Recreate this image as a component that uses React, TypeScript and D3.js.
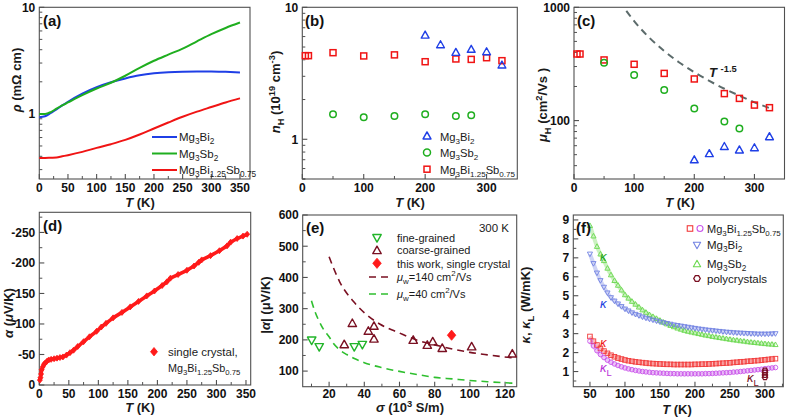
import React from "react";
import * as d3 from "d3";

const FONT = "Liberation Sans, Arial, Helvetica, sans-serif";

// ---------- (a) resistivity ----------
const aT = [0, 10, 20, 30, 40, 50, 75, 100, 125, 150, 175, 200, 225, 250, 275, 300, 325, 350];
const aBi = [0.93, 0.95, 1.02, 1.1, 1.2, 1.3, 1.55, 1.78, 1.98, 2.15, 2.3, 2.4, 2.46, 2.49, 2.5, 2.5, 2.48, 2.45];
const aSb = [1.0, 1.0, 1.04, 1.12, 1.2, 1.28, 1.5, 1.73, 1.96, 2.28, 2.7, 3.15, 3.6, 4.1, 4.8, 5.6, 6.4, 7.2];
const aMix = [0.385, 0.386, 0.388, 0.39, 0.4, 0.41, 0.44, 0.48, 0.52, 0.57, 0.64, 0.73, 0.83, 0.94, 1.05, 1.16, 1.28, 1.4];

// ---------- (b) carrier concentration ----------
const bBiT = [200, 225, 250, 275, 300, 325];
const bBi = [6.15, 5.2, 4.55, 4.8, 4.6, 3.65];
const bSbT = [50, 100, 150, 200, 250, 275];
const bSb = [1.55, 1.47, 1.5, 1.55, 1.5, 1.52];
const bMixT = [5, 10, 50, 100, 150, 200, 250, 275, 300, 325];
const bMix = [4.3, 4.3, 4.53, 4.28, 4.36, 3.87, 4.06, 4.03, 4.15, 3.94];

// ---------- (c) mobility ----------
const cMixT = [5, 10, 50, 100, 150, 200, 250, 275, 300, 325];
const cMix = [387, 387, 343, 314, 261, 233, 173, 157, 137, 130];
const cSbT = [50, 100, 150, 200, 250, 275];
const cSb = [324, 253, 186, 128, 98, 85];
const cBiT = [200, 225, 250, 275, 300, 325];
const cBi = [45, 51, 59, 55, 57.5, 72];
const cFitT = [87, 100, 125, 150, 175, 200, 225, 250, 275, 300, 325];
const cFit = [931, 756, 541, 411, 326, 267, 224, 191, 166, 145, 129];

// ---------- (d) Seebeck ----------
const dT = [1, 2, 3, 4, 6, 8, 10, 13, 16, 20, 25, 30, 35, 40, 46, 52, 58, 65, 75, 85, 97, 105, 113, 125, 140, 154, 168, 182, 195, 208, 216, 222, 235, 250, 262, 270, 275, 290, 305, 318, 324, 335, 345, 352];
const dA = [-8, -12, -18, -25, -30, -34, -36, -39, -41, -42, -43, -44, -45, -46, -49, -53, -57, -63, -71, -79, -88, -95, -101, -110, -119, -128, -137, -146, -154, -163, -169, -175, -181, -188, -195, -201, -205, -212, -220, -228, -234, -240, -244, -247];

// ---------- (e) Pisarenko ----------
const eFineS = [10.1, 14.4, 34.3, 38.9];
const eFineA = [199, 178, 178, 185];
const eCoarseS = [28.6, 33.2, 42.3, 45.5, 45.5, 67.8, 75.8, 78.9, 84.3, 101, 124.1];
const eCoarseA = [185, 253, 228, 244, 203, 199, 183, 194, 173, 178, 155];
const eCrystalS = [89.6];
const eCrystalA = [215];
const e140S = [20, 26, 34, 41, 49, 60, 70, 80, 90, 100, 110, 125];
const e140A = [466, 386, 322, 282, 250, 222, 199, 184, 171, 160, 152, 142];
const e40S = [10, 12, 14.5, 17, 20, 22.4, 26, 30, 34, 40, 50, 60, 70, 80, 90, 100, 110, 125];
const e40A = [325, 290, 258, 232, 210, 189, 168, 153, 141, 127, 111, 99, 89, 80, 75, 70, 66, 61];

// ---------- (f) thermal conductivity ----------
const fT = [50, 55, 60, 65, 70, 75, 80, 85, 90, 95, 100, 105, 110, 115, 120, 125, 130, 135, 140, 145, 150, 155, 160, 165, 170, 175, 180, 185, 190, 195, 200, 205, 210, 215, 220, 225, 230, 235, 240, 245, 250, 255, 260, 265, 270, 275, 280, 285, 290, 295, 300, 305, 310, 315];
const fSb = [8.7, 8.15, 7.6, 7.2, 6.85, 6.45, 6.1, 5.8, 5.55, 5.3, 5.05, 4.87, 4.7, 4.55, 4.4, 4.25, 4.12, 4.0, 3.9, 3.8, 3.7, 3.6, 3.51, 3.43, 3.36, 3.29, 3.23, 3.17, 3.12, 3.08, 3.04, 3.0, 2.96, 2.92, 2.89, 2.85, 2.82, 2.79, 2.76, 2.73, 2.7, 2.67, 2.65, 2.62, 2.6, 2.57, 2.55, 2.53, 2.51, 2.49, 2.47, 2.45, 2.44, 2.42];
const fBi = [7.2, 6.7, 6.2, 5.8, 5.45, 5.15, 4.9, 4.72, 4.57, 4.43, 4.3, 4.2, 4.1, 4.02, 3.95, 3.88, 3.82, 3.77, 3.72, 3.67, 3.62, 3.58, 3.54, 3.5, 3.46, 3.43, 3.4, 3.37, 3.34, 3.31, 3.28, 3.25, 3.23, 3.2, 3.18, 3.16, 3.14, 3.12, 3.1, 3.08, 3.07, 3.05, 3.04, 3.03, 3.02, 3.01, 3.0, 2.99, 2.98, 2.98, 2.98, 2.98, 2.99, 3.0];
const fMix = [2.85, 2.6, 2.4, 2.22, 2.08, 1.96, 1.86, 1.78, 1.71, 1.66, 1.61, 1.57, 1.54, 1.51, 1.49, 1.47, 1.45, 1.43, 1.42, 1.41, 1.4, 1.39, 1.38, 1.38, 1.37, 1.37, 1.37, 1.37, 1.37, 1.37, 1.38, 1.38, 1.39, 1.39, 1.4, 1.41, 1.42, 1.43, 1.44, 1.45, 1.46, 1.48, 1.49, 1.51, 1.52, 1.54, 1.55, 1.57, 1.58, 1.6, 1.62, 1.64, 1.66, 1.68];
const fMixL = [2.6, 2.35, 2.1, 1.9, 1.74, 1.6, 1.49, 1.4, 1.32, 1.25, 1.19, 1.14, 1.1, 1.06, 1.03, 1.0, 0.98, 0.96, 0.94, 0.93, 0.92, 0.91, 0.9, 0.89, 0.89, 0.88, 0.88, 0.88, 0.88, 0.88, 0.88, 0.88, 0.88, 0.89, 0.89, 0.9, 0.91, 0.92, 0.93, 0.94, 0.95, 0.97, 0.98, 1.0, 1.02, 1.04, 1.06, 1.08, 1.1, 1.12, 1.15, 1.17, 1.19, 1.21];
const fPolyT = [300, 300, 300, 300];
const fPoly = [1.05, 0.95, 0.82, 0.7];

// ---------- colours ----------
const BLUE = "#1f3fe6";
const GREEN = "#1fae1f";
const RED = "#f01414";
const DARKRED = "#7a1022";
const AX = "#505050";

type Seg = [string, string?];

function Rich({ segs, x, y, size = 12, weight = "normal", anchor = "start", rotate = false, fill = "#1a1a1a" }: any) {
  let cur = 0;
  const spans = segs.map((s: Seg, i: number) => {
    const [t, st = ""] = s;
    const sub = st.includes("b");
    const sup = st.includes("p");
    const target = sub ? size * 0.3 : sup ? -size * 0.4 : 0;
    const dy = target - cur;
    cur = target;
    return (
      <tspan key={i} dy={dy} fontSize={sub || sup ? size * 0.72 : size} fontStyle={st.includes("i") ? "italic" : "normal"}>
        {t}
      </tspan>
    );
  });
  return (
    <text
      x={rotate ? 0 : x}
      y={rotate ? 0 : y}
      fontSize={size}
      fontWeight={weight}
      textAnchor={anchor}
      fill={fill}
      fontFamily={FONT}
      style={{ whiteSpace: "pre" }}
      transform={rotate ? `translate(${x},${y}) rotate(-90)` : undefined}
    >
      {spans}
    </text>
  );
}

function Marker({ type, x, y, s, color, sw = 1.4, fill = "none" }: any) {
  if (type === "sq") return <rect x={x - s / 2} y={y - s / 2} width={s} height={s} fill={fill} stroke={color} strokeWidth={sw} />;
  if (type === "ci") return <circle cx={x} cy={y} r={s / 2} fill={fill} stroke={color} strokeWidth={sw} />;
  if (type === "tu")
    return <polygon points={`${x},${y - s * 0.58} ${x - s * 0.56},${y + s * 0.42} ${x + s * 0.56},${y + s * 0.42}`} fill={fill} stroke={color} strokeWidth={sw} strokeLinejoin="round" />;
  if (type === "td")
    return <polygon points={`${x},${y + s * 0.58} ${x - s * 0.56},${y - s * 0.42} ${x + s * 0.56},${y - s * 0.42}`} fill={fill} stroke={color} strokeWidth={sw} strokeLinejoin="round" />;
  if (type === "di")
    return <polygon points={`${x},${y - s * 0.6} ${x + s * 0.5},${y} ${x},${y + s * 0.6} ${x - s * 0.5},${y}`} fill={color} stroke={color} strokeWidth={sw} />;
  if (type === "hx") {
    const pts = [0, 1, 2, 3, 4, 5].map((k) => {
      const a = (Math.PI / 3) * k;
      return `${x + (s / 2) * Math.cos(a)},${y + (s / 2) * Math.sin(a)}`;
    });
    return <polygon points={pts.join(" ")} fill={fill} stroke={color} strokeWidth={sw} />;
  }
  return null;
}

function Axes({ x, y, xMajor, xMinor, yMajor, yMinor, xOff = 13, xFmt = (v: number) => String(v), yFmt = (v: number) => String(v) }: any) {
  const [x0, x1] = x.range();
  const [y0, y1] = y.range();
  return (
    <g>
      <rect x={x0} y={y1} width={x1 - x0} height={y0 - y1} fill="none" stroke={AX} strokeWidth={1.1} />
      {xMajor.map((v: number, i: number) => (
        <line key={"xM" + i} x1={x(v)} x2={x(v)} y1={y0} y2={y0 - 5} stroke={AX} strokeWidth={1.1} />
      ))}
      {xMinor.map((v: number, i: number) => (
        <line key={"xm" + i} x1={x(v)} x2={x(v)} y1={y0} y2={y0 - 3} stroke={AX} strokeWidth={1} />
      ))}
      {yMajor.map((v: number, i: number) => (
        <line key={"yM" + i} x1={x0} x2={x0 + 5} y1={y(v)} y2={y(v)} stroke={AX} strokeWidth={1.1} />
      ))}
      {yMinor.map((v: number, i: number) => (
        <line key={"ym" + i} x1={x0} x2={x0 + 3} y1={y(v)} y2={y(v)} stroke={AX} strokeWidth={1} />
      ))}
      {xMajor.map((v: number, i: number) => (
        <text key={"xl" + i} x={x(v)} y={y0 + xOff} fontSize={12} fontWeight="bold" textAnchor="middle" fontFamily={FONT} fill="#111">
          {xFmt(v)}
        </text>
      ))}
      {yMajor.map((v: number, i: number) => (
        <text key={"yl" + i} x={x0 - 4} y={y(v) + 4.3} fontSize={12} fontWeight="bold" textAnchor="end" fontFamily={FONT} fill="#111">
          {yFmt(v)}
        </text>
      ))}
    </g>
  );
}

function PanelLabel({ x, y, t }: any) {
  return (
    <text x={x} y={y} fontSize={15} fontWeight="bold" fontFamily={FONT} fill="#111">
      {t}
    </text>
  );
}

const logMinor = (lo: number, hi: number) => {
  const out: number[] = [];
  for (let d = Math.floor(Math.log10(lo)); d <= Math.ceil(Math.log10(hi)); d++) {
    for (let m = 2; m <= 9; m++) {
      const v = m * Math.pow(10, d);
      if (v >= lo && v <= hi) out.push(v);
    }
  }
  return out;
};

const zip = (xs: number[], ys: number[]) => xs.map((v, i) => [v, ys[i]] as [number, number]);

export default function App() {
  const ax = d3.scaleLinear().domain([0, 367.5]).range([39.3, 250]);
  const ay = d3.scaleLog().domain([0.245, 10]).range([179, 7.3]);
  const bx = d3.scaleLinear().domain([0, 350]).range([302.3, 517.3]);
  const by = d3.scaleLog().domain([0.5, 10]).range([179, 7.3]);
  const cx = d3.scaleLinear().domain([0, 350]).range([574, 784.5]);
  const cy = d3.scaleLog().domain([30.5, 1000]).range([179, 7.3]);
  const dx = d3.scaleLinear().domain([0, 358]).range([39.3, 250.7]);
  const dy = d3.scaleLinear().domain([0, -283]).range([385, 212.3]);
  const ex = d3.scaleLinear().domain([5, 126.6]).range([302.7, 516.7]);
  const ey = d3.scaleLinear().domain([50, 600]).range([386.7, 215]);
  const fx = d3.scaleLinear().domain([26.2, 326.2]).range([573.3, 783.3]);
  const fy = d3.scaleLinear().domain([0.2, 9.26]).range([386.7, 215]);

  const lineA = d3.line<[number, number]>().x((d) => ax(d[0])).y((d) => ay(d[1])).curve(d3.curveMonotoneX);
  const lineC = d3.line<[number, number]>().x((d) => cx(d[0])).y((d) => cy(d[1])).curve(d3.curveMonotoneX);
  const lineD = d3.line<[number, number]>().x((d) => dx(d[0])).y((d) => dy(d[1]));
  const lineE = d3.line<[number, number]>().x((d) => ex(d[0])).y((d) => ey(d[1])).curve(d3.curveMonotoneX);
  const lineF = d3.line<[number, number]>().x((d) => fx(d[0])).y((d) => fy(d[1])).curve(d3.curveMonotoneX);

  const fSeries = [
    { v: fSb, type: "tu", color: "#6ad84e" },
    { v: fBi, type: "td", color: "#7282e2" },
    { v: fMix, type: "sq", color: "#f23a3a" },
    { v: fMixL, type: "ci", color: "#c955ea" },
  ];

  const Tlabel: Seg[] = [["T", "i"], [" (K)"]];
  const mix: Seg[] = [["Mg"], ["3", "b"], ["Bi"], ["1.25", "b"], ["Sb"], ["0.75", "b"]];
  const bi: Seg[] = [["Mg"], ["3", "b"], ["Bi"], ["2", "b"]];
  const sb: Seg[] = [["Mg"], ["3", "b"], ["Sb"], ["2", "b"]];
  const TOPT = 206.5;

  return (
    <svg width={788} height={419} style={{ position: "absolute", left: 0, top: 0, background: "#fff" }}>
      <rect width={788} height={419} fill="#fff" />

      {/* ===== (a) ===== */}
      <Axes
        x={ax}
        y={ay}
        xOff={12.5}
        xMajor={[0, 50, 100, 150, 200, 250, 300, 350]}
        xMinor={[25, 75, 125, 175, 225, 275, 325]}
        yMajor={[1, 10]}
        yMinor={logMinor(0.25, 10).filter((v) => v !== 1 && v !== 10)}
      />
      <path d={lineA(zip(aT, aBi)) || ""} fill="none" stroke={BLUE} strokeWidth={2} />
      <path d={lineA(zip(aT, aSb)) || ""} fill="none" stroke={GREEN} strokeWidth={2} />
      <path d={lineA(zip(aT, aMix)) || ""} fill="none" stroke={RED} strokeWidth={2} />
      <PanelLabel x={43} y={26} t="(a)" />
      {[
        { c: BLUE, segs: bi },
        { c: GREEN, segs: sb },
        { c: RED, segs: mix },
      ].map((r, i) => (
        <g key={i}>
          <line x1={152} x2={177} y1={137 + i * 16.5} y2={137 + i * 16.5} stroke={r.c} strokeWidth={2} />
          <Rich segs={r.segs} x={179} y={141 + i * 16.5} size={11.5} />
        </g>
      ))}
      <Rich segs={[["ρ", "i"], [" (mΩ cm)"]]} x={21} y={80} size={13} weight="bold" anchor="middle" rotate />
      <Rich segs={Tlabel} x={140} y={TOPT} size={13} weight="bold" anchor="middle" />

      {/* ===== (b) ===== */}
      <Axes
        x={bx}
        y={by}
        xOff={12.5}
        xMajor={[0, 100, 200, 300]}
        xMinor={[50, 150, 250]}
        yMajor={[1, 10]}
        yMinor={logMinor(0.5, 10).filter((v) => v !== 1 && v !== 10).concat([0.5])}
      />
      {bMixT.map((t, i) => (
        <Marker key={"bm" + i} type="sq" x={bx(t)} y={by(bMix[i])} s={6} color={RED} sw={1.5} />
      ))}
      {bSbT.map((t, i) => (
        <Marker key={"bs" + i} type="ci" x={bx(t)} y={by(bSb[i])} s={6.5} color={GREEN} sw={1.5} />
      ))}
      {bBiT.map((t, i) => (
        <Marker key={"bb" + i} type="tu" x={bx(t)} y={by(bBi[i])} s={7} color={BLUE} sw={1.4} />
      ))}
      <PanelLabel x={305} y={26} t="(b)" />
      {[
        { c: BLUE, t: "tu", segs: bi },
        { c: GREEN, t: "ci", segs: sb },
        { c: RED, t: "sq", segs: mix },
      ].map((r, i) => (
        <g key={i}>
          <Marker type={r.t} x={427} y={136 + i * 16.6} s={r.t === "sq" ? 6 : 7} color={r.c} sw={1.5} />
          <Rich segs={r.segs} x={440} y={140.5 + i * 16.6} size={11.2} />
        </g>
      ))}
      <Rich segs={[["n", "i"], ["H", "b"], [" (10"], ["19", "p"], [" cm"], ["-3", "p"], [")"]]} x={280} y={92} size={13} weight="bold" anchor="middle" rotate />
      <Rich segs={Tlabel} x={410} y={TOPT} size={13} weight="bold" anchor="middle" />

      {/* ===== (c) ===== */}
      <Axes
        x={cx}
        y={cy}
        xOff={12.5}
        xMajor={[0, 100, 200, 300]}
        xMinor={[50, 150, 250]}
        yMajor={[100, 1000]}
        yMinor={logMinor(31, 1000).filter((v) => v !== 100 && v !== 1000)}
      />
      <path d={lineC(zip(cFitT, cFit)) || ""} fill="none" stroke="#5c6b6b" strokeWidth={2} strokeDasharray="7,5" />
      {cMixT.map((t, i) => (
        <Marker key={"cm" + i} type="sq" x={cx(t)} y={cy(cMix[i])} s={6} color={RED} sw={1.5} />
      ))}
      {cSbT.map((t, i) => (
        <Marker key={"cs" + i} type="ci" x={cx(t)} y={cy(cSb[i])} s={6.5} color={GREEN} sw={1.5} />
      ))}
      {cBiT.map((t, i) => (
        <Marker key={"cb" + i} type="tu" x={cx(t)} y={cy(cBi[i])} s={7} color={BLUE} sw={1.4} />
      ))}
      <PanelLabel x={577} y={26} t="(c)" />
      <Rich segs={[["T", "i"], [" "], ["-1.5", "p"]]} x={709} y={77} size={13} weight="bold" />
      <Rich segs={[["μ", "i"], ["H", "b"], [" (cm"], ["2", "p"], ["/Vs )"]]} x={547} y={105} size={13} weight="bold" anchor="middle" rotate />
      <Rich segs={Tlabel} x={680} y={TOPT} size={13} weight="bold" anchor="middle" />

      {/* ===== (d) ===== */}
      <Axes
        x={dx}
        y={dy}
        xOff={12.5}
        xMajor={[0, 50, 100, 150, 200, 250, 300, 350]}
        xMinor={[25, 75, 125, 175, 225, 275, 325]}
        yMajor={[0, -50, -100, -150, -200, -250]}
        yMinor={[-25, -75, -125, -175, -225, -275]}
      />
      <path d={lineD(zip(dT, dA)) || ""} fill="none" stroke="#ff1a1a" strokeWidth={3.6} strokeLinejoin="round" />
      {dT.map((t, i) => (
        <Marker key={"d" + i} type="di" x={dx(t)} y={dy(dA[i])} s={5} color="#ff1a1a" sw={0.8} />
      ))}
      <PanelLabel x={43} y={231} t="(d)" />
      <Marker type="di" x={154} y={351.7} s={7} color="#ff1a1a" sw={0.8} />
      <text x={168} y={356} fontSize={11.5} fontFamily={FONT} fill="#1a1a1a">single crystal,</text>
      <Rich segs={mix} x={168} y={372} size={10.8} />
      <Rich segs={[["α", "i"], [" ("], ["μ", "i"], ["V/K)"]]} x={13} y={313} size={13} weight="bold" anchor="middle" rotate />
      <Rich segs={Tlabel} x={140} y={412} size={13} weight="bold" anchor="middle" />

      {/* ===== (e) ===== */}
      <Axes
        x={ex}
        y={ey}
        xOff={11.5}
        xMajor={[20, 40, 60, 80, 100, 120]}
        xMinor={[10, 30, 50, 70, 90, 110]}
        yMajor={[100, 200, 300, 400, 500, 600]}
        yMinor={[150, 250, 350, 450, 550]}
      />
      <path d={lineE(zip(e140S, e140A)) || ""} fill="none" stroke={DARKRED} strokeWidth={1.6} strokeDasharray="7,5" />
      <path d={lineE(zip(e40S, e40A)) || ""} fill="none" stroke="#2fbf2f" strokeWidth={1.6} strokeDasharray="7,5" />
      {eFineS.map((s, i) => (
        <Marker key={"ef" + i} type="td" x={ex(s)} y={ey(eFineA[i])} s={7.5} color="#22b52a" sw={1.4} />
      ))}
      {eCoarseS.map((s, i) => (
        <Marker key={"ec" + i} type="tu" x={ex(s)} y={ey(eCoarseA[i])} s={7.5} color={DARKRED} sw={1.4} />
      ))}
      {eCrystalS.map((s, i) => (
        <Marker key={"ex" + i} type="di" x={ex(s)} y={ey(eCrystalA[i])} s={8.5} color="#ff1a1a" sw={0.8} />
      ))}
      <PanelLabel x={306} y={233} t="(e)" />
      <text x={509} y={232} fontSize={11.5} fontFamily={FONT} textAnchor="end" fill="#1a1a1a">300 K</text>
      <Marker type="td" x={377} y={237.7} s={7.5} color="#22b52a" sw={1.4} />
      <text x={397} y={241.8} fontSize={11} fontFamily={FONT} fill="#1a1a1a">fine-grained</text>
      <Marker type="tu" x={377} y={250.5} s={7.5} color={DARKRED} sw={1.4} />
      <text x={397} y={254.3} fontSize={11} fontFamily={FONT} fill="#1a1a1a">coarse-grained</text>
      <Marker type="di" x={377} y={263.3} s={8.5} color="#ff1a1a" sw={0.8} />
      <text x={397} y={267.5} fontSize={11} fontFamily={FONT} fill="#1a1a1a">this work, single crystal</text>
      <line x1={369} x2={389} y1={277} y2={277} stroke={DARKRED} strokeWidth={1.6} strokeDasharray="7,5" />
      <Rich segs={[["μ", "i"], ["w", "b"], ["=140 cm"], ["2", "p"], ["/Vs"]]} x={397} y={280.5} size={11} />
      <line x1={369} x2={389} y1={294} y2={294} stroke="#2fbf2f" strokeWidth={1.6} strokeDasharray="7,5" />
      <Rich segs={[["μ", "i"], ["w", "b"], ["=40 cm"], ["2", "p"], ["/Vs"]]} x={397} y={297.5} size={11} />
      <Rich segs={[["|"], ["α", "i"], ["| (μV/K)"]]} x={270} y={305} size={13} weight="bold" anchor="middle" rotate />
      <Rich segs={[["σ", "i"], [" (10"], ["3", "p"], [" S/m)"]]} x={410} y={412} size={13} weight="bold" anchor="middle" />

      {/* ===== (f) ===== */}
      <Axes
        x={fx}
        y={fy}
        xOff={11.3}
        xMajor={[50, 100, 150, 200, 250, 300]}
        xMinor={[75, 125, 175, 225, 275, 325]}
        yMajor={[1, 2, 3, 4, 5, 6, 7, 8, 9]}
        yMinor={[0.5, 1.5, 2.5, 3.5, 4.5, 5.5, 6.5, 7.5, 8.5]}
      />
      {fSeries.map((s, k) => (
        <path key={"fb" + k} d={lineF(zip(fT, s.v)) || ""} fill="none" stroke={s.color} strokeWidth={4} strokeOpacity={0.35} />
      ))}
      {fSeries.map((s, k) => (
        <g key={"fs" + k}>
          {fT.map((t, i) => (
            <Marker key={i} type={s.type} x={fx(t)} y={fy(s.v[i])} s={4.6} color={s.color} sw={0.9} />
          ))}
        </g>
      ))}
      {fPolyT.map((t, i) => (
        <Marker key={"fp" + i} type="hx" x={fx(t)} y={fy(fPoly[i])} s={5.5} color={DARKRED} sw={1.2} />
      ))}
      <PanelLabel x={576} y={233} t="(f)" />
      <Rich segs={[["κ", "i"]]} x={600} y={261} size={13} fill="#1fa51f" />
      <Rich segs={[["κ", "i"]]} x={600} y={308} size={13} fill="#2040e0" />
      <Rich segs={[["κ", "i"]]} x={600} y={347} size={13} fill="#ee1c1c" />
      <Rich segs={[["κ", "i"], ["L", "b"]]} x={600} y={372} size={13} fill="#b830d8" />
      <Rich segs={[["κ", "i"], ["L", "b"]]} x={747} y={382} size={13} fill={DARKRED} />
      <Marker type="sq" x={690} y={228.5} s={5.5} color="#f23a3a" sw={1.1} />
      <Marker type="ci" x={700} y={228.5} s={6} color="#c955ea" sw={1.1} />
      <Rich segs={mix} x={707} y={232.5} size={11} />
      <Marker type="td" x={697} y={245} s={6.5} color="#7282e2" sw={1.1} />
      <Rich segs={bi} x={707} y={249} size={11.5} />
      <Marker type="tu" x={697} y={264} s={6.5} color="#6ad84e" sw={1.1} />
      <Rich segs={sb} x={707} y={268} size={11.5} />
      <Marker type="hx" x={697} y={278.5} s={6.5} color={DARKRED} sw={1.3} />
      <text x={707} y={282.5} fontSize={11.5} fontFamily={FONT} fill="#1a1a1a">polycrystals</text>
      <Rich segs={[["κ", "i"], [", "], ["κ", "i"], ["L", "b"], [" (W/mK)"]]} x={530} y={305} size={13} weight="bold" anchor="middle" rotate />
      <Rich segs={Tlabel} x={677} y={413.5} size={13} weight="bold" anchor="middle" />
    </svg>
  );
}
